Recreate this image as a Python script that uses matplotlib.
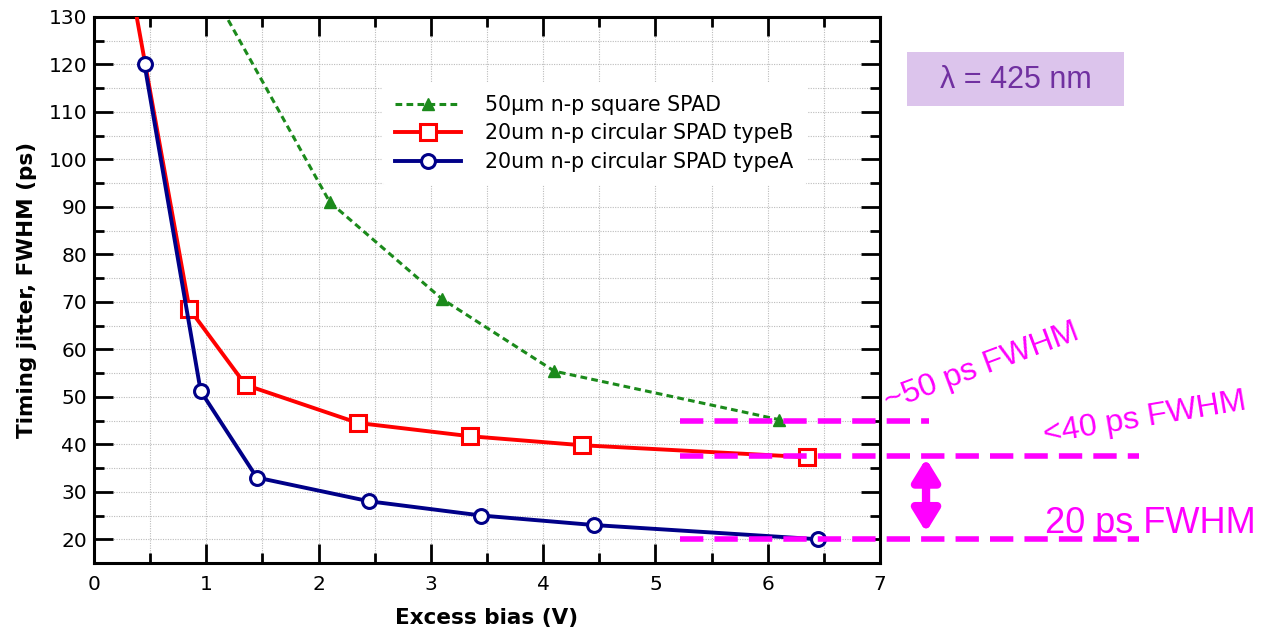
import numpy as np
import matplotlib.pyplot as plt
from matplotlib.ticker import MultipleLocator
from matplotlib.patches import Rectangle

# data
x_green = [1.1, 2.1, 3.1, 4.1, 6.1]
y_green = [133.4, 91.0, 70.6, 55.4, 45.2]
x_red = [0.35, 0.85, 1.35, 2.35, 3.35, 4.35, 6.35]
y_red = [134.0, 68.5, 52.5, 44.5, 41.7, 39.8, 37.3]
x_blue = [0.45, 0.95, 1.45, 2.45, 3.45, 4.45, 6.45]
y_blue = [120.0, 51.2, 33.0, 28.0, 25.0, 23.0, 20.0]

labels = ["50μm n-p square SPAD",
          "20um n-p circular SPAD typeB",
          "20um n-p circular SPAD typeA"]

# guide lines (level, x start, x end) in data units
guide_levels = [45.0, 37.5, 20.0]
guide_x0 = [5.22, 5.22, 5.22]
guide_x1 = [7.44, 9.31, 9.31]

magenta = '#ff00ff'
green = '#1b8a1b'
navy = '#000088'

W, H = 1261, 637
fig = plt.figure(figsize=(W/100, H/100), dpi=100)
ax = fig.add_axes([94/W, 1-563/H, (880-94)/W, (563-17)/H])

ax.plot(x_green, y_green, ls=(0, (2.2, 1.4)), color=green, lw=2.2,
        marker='^', ms=8, mfc=green, mec=green, label=labels[0], zorder=3)
ax.plot(x_red, y_red, color='#ff0000', lw=2.8, marker='s', ms=11,
        mfc='white', mec='#ff0000', mew=2.2, label=labels[1], zorder=4)
ax.plot(x_blue, y_blue, color=navy, lw=2.8, marker='o', ms=10,
        mfc='white', mec=navy, mew=2.2, label=labels[2], zorder=5)

ax.set_xlim(0, 7)
ax.set_ylim(15, 130)
ax.xaxis.set_major_locator(MultipleLocator(1))
ax.xaxis.set_minor_locator(MultipleLocator(0.5))
ax.yaxis.set_minor_locator(MultipleLocator(5))
ax.set_yticks(np.arange(20, 131, 10))

ax.grid(True, which='both', color='#bcbcbc', ls=(0, (1, 1.2)), lw=0.8)
ax.tick_params(which='both', direction='in', top=True, right=True,
               labelsize=14.5, width=2, pad=5)
ax.tick_params(which='major', length=14)
ax.tick_params(which='minor', length=7)
ax.tick_params(axis='x', pad=9)
for sp in ax.spines.values():
    sp.set_linewidth(2.2)

ax.set_xlabel('Excess bias (V)', fontsize=15.5, fontweight='bold', labelpad=10)
ax.set_ylabel('Timing jitter, FWHM (ps)', fontsize=15.5, fontweight='bold',
              labelpad=8)

leg = ax.legend(loc='upper left', bbox_to_anchor=(0.367, 0.88), frameon=True,
                fontsize=14.8, handlelength=3.2, handletextpad=1.2,
                labelspacing=0.42, borderpad=0.6, borderaxespad=0)
leg.get_frame().set_edgecolor('white')
leg.get_frame().set_facecolor('white')
leg.get_frame().set_alpha(1)

# magenta guide lines
for lv, a, b in zip(guide_levels, guide_x0, guide_x1):
    ax.plot([a, b], [lv, lv], color=magenta, lw=4, ls=(0, (4.2, 2.0)),
            clip_on=False, zorder=6)

ax.annotate('', xy=(7.41, 37.0), xytext=(7.41, 21.5),
            arrowprops=dict(arrowstyle='<|-|>,head_length=1.3,head_width=0.8',
                            lw=6, color=magenta, shrinkA=0, shrinkB=0),
            annotation_clip=False)

fig.text(889/W, 1-410/H, '~50 ps FWHM', color=magenta, fontsize=23,
         rotation=20.5, family='Liberation Sans', ha='left', va='baseline',
         rotation_mode='anchor')
fig.text(1045/W, 1-443/H, '<40 ps FWHM', color=magenta, fontsize=23,
         rotation=9.5, family='Liberation Sans', ha='left', va='baseline',
         rotation_mode='anchor')
fig.text(1045/W, 1-533/H, '20 ps FWHM', color=magenta, fontsize=26,
         family='Liberation Sans', ha='left', va='baseline')

fig.patches.append(Rectangle((907/W, 1-106/H), (1124-907)/W, 54/H,
                             transform=fig.transFigure, fc='#dcc4ec', ec='none'))
fig.text((907+1124)/2/W, 1-80/H, 'λ = 425 nm', color='#7030a0',
         fontsize=22, family='Liberation Sans', ha='center', va='center')

fig.savefig('out.png', dpi=100)
